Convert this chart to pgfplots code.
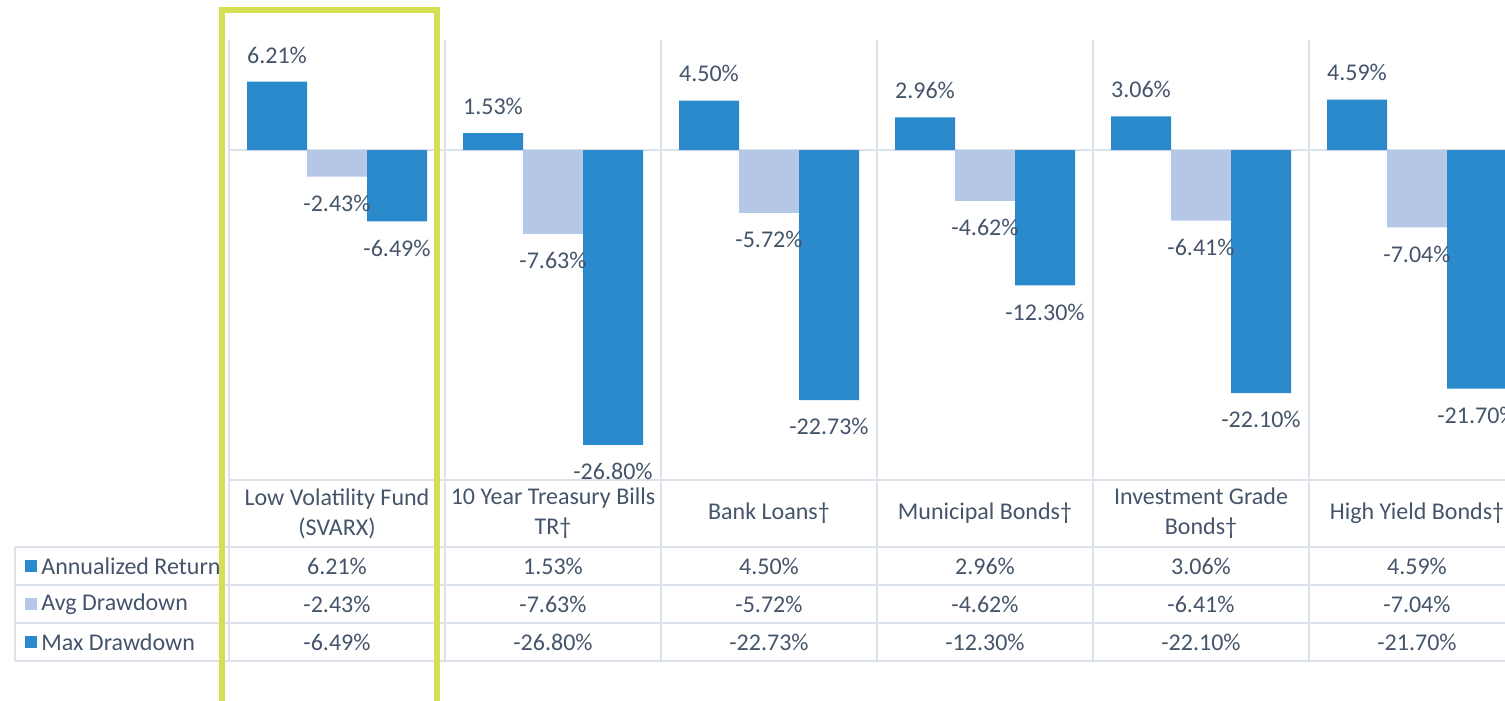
\documentclass[border=0pt]{standalone}
\usepackage{pgfplots}
\pgfplotsset{compat=1.18}
\usepackage{fontspec}
\setmainfont{Carlito}
\definecolor{txt}{HTML}{44546A}
\definecolor{barA}{HTML}{2A8ACC}
\definecolor{barB}{HTML}{B4C7E7}
\definecolor{gridc}{HTML}{DCE2EA}
\definecolor{hl}{RGB}{214,223,84}
\begin{document}
\begin{tikzpicture}[x=0.5pt,y=0.5pt,every node/.style={font=\fontsize{12}{15}\selectfont,text=txt}]
\useasboundingbox (0,0) rectangle (1505,701);
\begin{scope}
\clip (0,0) rectangle (1505,701);
% grid (px coords, y flipped: tikz y = 701 - px y)
\draw[gridc, line width=1pt] (229,551) -- (1505,551);
\foreach \x in {229,445,661,877,1093,1309} \draw[gridc, line width=1pt] (\x,661) -- (\x,40);
\draw[gridc, line width=1pt] (229,221) -- (1505,221);
\foreach \y in {153.5,115.5,77.5,40} \draw[gridc, line width=1pt] (15,\y) -- (1505,\y);
\draw[gridc, line width=1pt] (15,153.5) -- (15,40);
\coordinate (ll) at (229,221);
\begin{axis}[at={(ll)}, anchor=south west, scale only axis,
  width=648pt, height=220pt,
  xmin=-0.5, xmax=5.5, ymin=-30, ymax=10, hide axis,
  ybar=0pt, bar width=30pt, clip=false,
  point meta=explicit symbolic,
  nodes near coords,
  every node near coord/.append style={font=\fontsize{12}{15}\selectfont, text=txt, inner ysep=9pt},
]
\addplot[fill=barA, draw=none, every node near coord/.append style={anchor=south}] coordinates {
 (0,6.21) [6.21\%] (1,1.53) [1.53\%] (2,4.50) [4.50\%] (3,2.96) [2.96\%] (4,3.06) [3.06\%] (5,4.59) [4.59\%]};
\addplot[fill=barB, draw=none, every node near coord/.append style={anchor=north}] coordinates {
 (0,-2.43) [-2.43\%] (1,-7.63) [-7.63\%] (2,-5.72) [-5.72\%] (3,-4.62) [-4.62\%] (4,-6.41) [-6.41\%] (5,-7.04) [-7.04\%]};
\addplot[fill=barA, draw=none, every node near coord/.append style={anchor=north}] coordinates {
 (0,-6.49) [-6.49\%] (1,-26.80) [-26.80\%] (2,-22.73) [-22.73\%] (3,-12.30) [-12.30\%] (4,-22.10) [-22.10\%] (5,-21.70) [-21.70\%]};
\end{axis}
% header labels
\node[align=center] at (337,187.5) {Low Volatility Fund\\(SVARX)};
\node[align=center] at (553,187.5) {10 Year Treasury Bills\\TR†};
\node[align=center] at (769,187.5) {Bank Loans†};
\node[align=center] at (985,187.5) {Municipal Bonds†};
\node[align=center] at (1201,187.5) {Investment Grade\\Bonds†};
\node[align=center] at (1417,187.5) {High Yield Bonds†};
% row legends
\fill[barA] (25,129) rectangle (37,141);
\fill[barB] (25,91) rectangle (37,103);
\fill[barA] (25,53) rectangle (37,65);
\begin{scope}
\clip (0,0) rectangle (221,701);
\node[anchor=west, inner sep=0pt] at (41,135) {Annualized Return};
\end{scope}
\node[anchor=west, inner sep=0pt] at (41,97) {Avg Drawdown};
\node[anchor=west, inner sep=0pt] at (41,59) {Max Drawdown};
% row values
\foreach \x/\a/\b/\c in {337/6.21/-2.43/-6.49, 553/1.53/-7.63/-26.80, 769/4.50/-5.72/-22.73, 985/2.96/-4.62/-12.30, 1201/3.06/-6.41/-22.10, 1417/4.59/-7.04/-21.70}{
  \node at (\x,135) {\a\%};
  \node at (\x,97) {\b\%};
  \node at (\x,59) {\c\%};
}
% highlight
\draw[hl, line width=3pt] (222,691) rectangle (437,-4);
\end{scope}
\end{tikzpicture}
\end{document}
